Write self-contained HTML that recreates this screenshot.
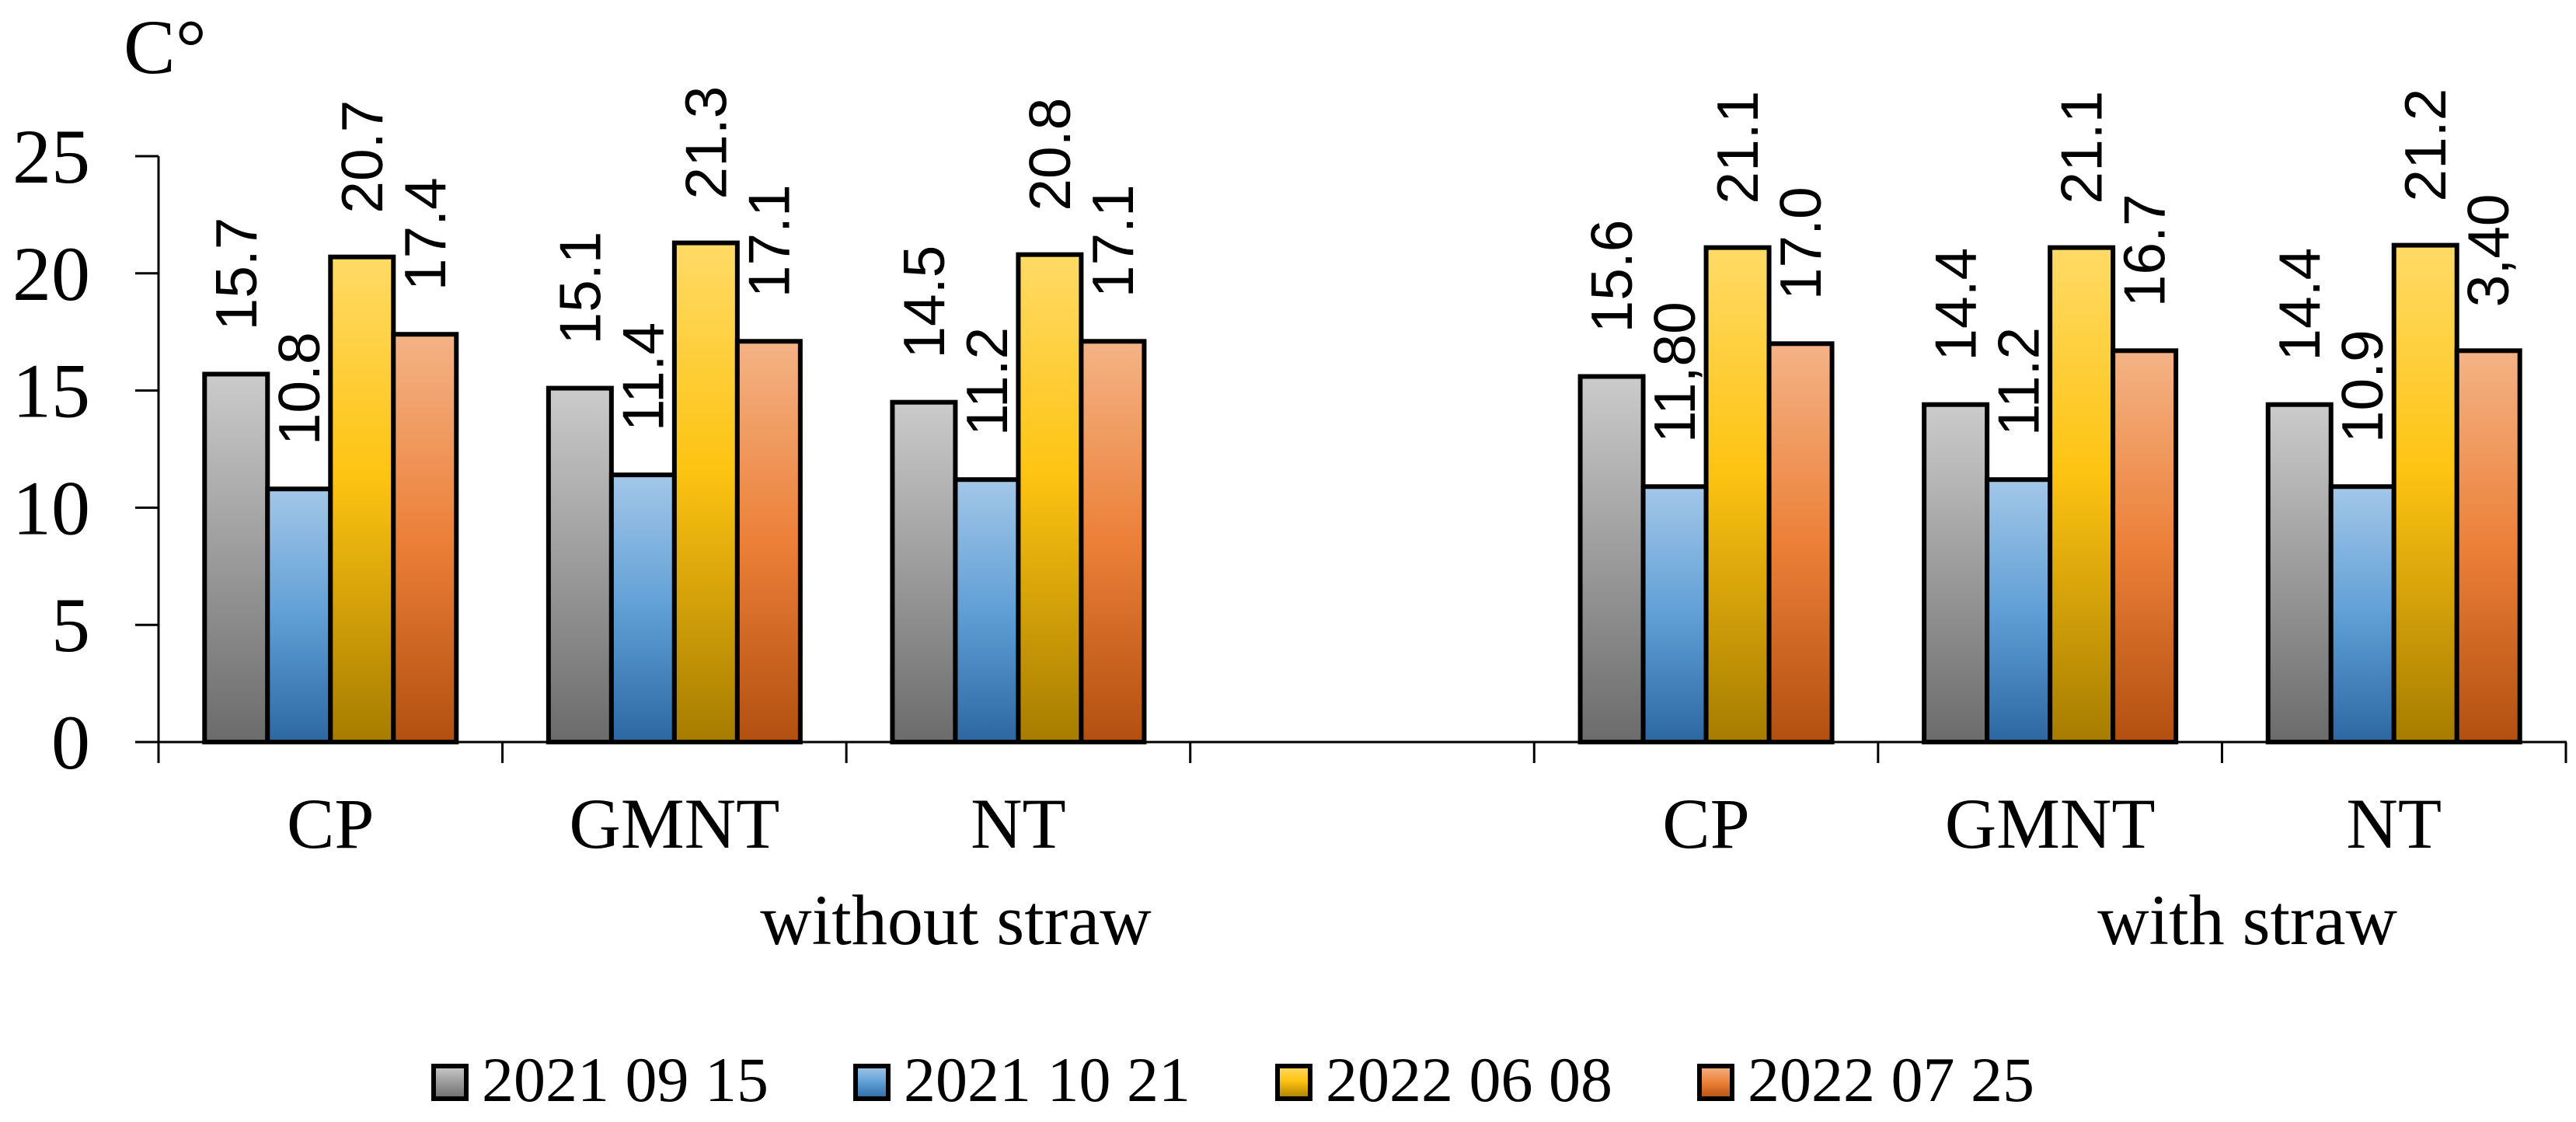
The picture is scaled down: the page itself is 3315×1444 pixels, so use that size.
<!DOCTYPE html>
<html><head><meta charset="utf-8"><style>
html,body{margin:0;padding:0;background:#fff;}
svg{display:block;}
</style></head><body>
<svg id="chart" width="3315" height="1444" viewBox="0 0 3315 1444" xmlns="http://www.w3.org/2000/svg">
<defs>
<linearGradient id="g0" x1="0" y1="0" x2="0" y2="1"><stop offset="0" stop-color="#cbcbcb"/><stop offset="1" stop-color="#6b6b6b"/></linearGradient>
<linearGradient id="g1" x1="0" y1="0" x2="0" y2="1"><stop offset="0" stop-color="#a3c7e8"/><stop offset="0.5" stop-color="#609fd6"/><stop offset="1" stop-color="#2c67a2"/></linearGradient>
<linearGradient id="g2" x1="0" y1="0" x2="0" y2="1"><stop offset="0" stop-color="#ffda66"/><stop offset="0.45" stop-color="#fec412"/><stop offset="1" stop-color="#a67c00"/></linearGradient>
<linearGradient id="g3" x1="0" y1="0" x2="0" y2="1"><stop offset="0" stop-color="#f4b386"/><stop offset="0.5" stop-color="#ec8038"/><stop offset="1" stop-color="#b24f10"/></linearGradient>
</defs>
<g id="plot"></g>
</svg>
<script>
const categories = ["CP","GMNT","NT","","CP","GMNT","NT"];
const seriesNames = ["2021 09 15","2021 10 21","2022 06 08","2022 07 25"];
const s0 = [15.7,15.1,14.5,null,15.6,14.4,14.4];
const s1 = [10.8,11.4,11.2,null,10.9,11.2,10.9];
const s2 = [20.7,21.3,20.8,null,21.1,21.1,21.2];
const s3 = [17.4,17.1,17.1,null,17.0,16.7,16.7];
const l0 = ["15.7","15.1","14.5","","15.6","14.4","14.4"];
const l1 = ["10.8","11.4","11.2","","11,80","11.2","10.9"];
const l2 = ["20.7","21.3","20.8","","21.1","21.1","21.2"];
const l3 = ["17.4","17.1","17.1","","17.0","16.7","3,40"];
const yTicks = [0,5,10,15,20,25];
const groupLabels = ["without straw","with straw"];

const NS="http://www.w3.org/2000/svg";
const g=document.getElementById('plot');
const X0=204, X1=3302, Y0=955, Y25=201;
const slotW=(X1-X0)/categories.length;
const barW=81;
function y(v){return Y0-(v/25)*(Y0-Y25);}
function slotX(i){return X0+i*slotW;}
function mk(tag,attrs){const e=document.createElementNS(NS,tag);for(const k in attrs)e.setAttribute(k,attrs[k]);g.appendChild(e);return e;}
const series=[s0,s1,s2,s3], labels=[l0,l1,l2,l3];

yTicks.forEach(t=>{
  const tk=mk('line',{x1:174,x2:X0,y1:y(t),y2:y(t),stroke:'#000','stroke-width':3});
  
  
  const tx=mk('text',{x:116,y:y(t)+34,'text-anchor':'end','font-family':'Liberation Serif, serif','font-size':100});
  tx.textContent=t;
  
  
});
categories.forEach((c,i)=>{
  const gx=slotX(i)+(slotW-4*barW)/2;
  series.forEach((s,k)=>{
    if(s[i]==null)return;
    const bx=gx+k*barW, top=y(s[i]);
    const r=mk('rect',{x:bx,y:top,width:barW,height:Y0-top,fill:'url(#g'+k+')',stroke:'#000','stroke-width':6});
    
    
    const cx=bx+barW/2, ly=top-56;
    const t=mk('text',{x:cx,y:ly,transform:'rotate(-90 '+cx+' '+ly+')','dominant-baseline':'central','font-family':'Liberation Sans, sans-serif','font-size':75});
    t.textContent=labels[k][i];
    
    
  });
  if(c){
    const cl=mk('text',{x:slotX(i)+slotW/2,y:1091,'text-anchor':'middle','font-family':'Liberation Serif, serif','font-size':92});
    cl.textContent=c;
    
    
  }
});
const ya=mk('line',{x1:X0,x2:X0,y1:Y25,y2:Y0,stroke:'#000','stroke-width':3});


const xa=mk('line',{x1:174,x2:X1+1,y1:Y0,y2:Y0,stroke:'#000','stroke-width':3});


for(let i=0;i<=categories.length;i++){
  const t=mk('line',{x1:slotX(i),x2:slotX(i),y1:Y0,y2:982,stroke:'#000','stroke-width':3});
  
  
}
[[1230,groupLabels[0]],[2892,groupLabels[1]]].forEach(([x,s])=>{
  const t=mk('text',{x:x,y:1215,'text-anchor':'middle','font-family':'Liberation Serif, serif','font-size':92});
  t.textContent=s;
  
  
});
const u=mk('text',{x:159,y:94,'font-family':'Liberation Serif, serif','font-size':100});
u.textContent='C°';


seriesNames.forEach((n,k)=>{
  const bx=558+k*543;
  const r=mk('rect',{x:bx,y:1372,width:42,height:42,fill:'url(#g'+k+')',stroke:'#000','stroke-width':6});
  
  
  const t=mk('text',{x:bx+62,y:1417,'font-family':'Liberation Serif, serif','font-size':82});
  t.textContent=n;
  
  
});
</script>
</body></html>
